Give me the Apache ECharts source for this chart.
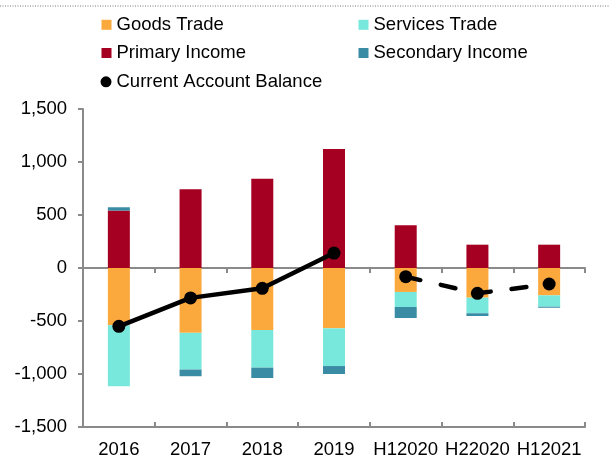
<!DOCTYPE html>
<html>
<head>
<meta charset="utf-8">
<script src="https://cdn.jsdelivr.net/npm/echarts@6/dist/echarts.min.js"></script>
<style>
    html, body { margin: 0; padding: 0; background: #fff; }
    #chart { width: 609px; height: 459px; }
</style>
</head>
<body>
<div id="chart"></div>
<script>
// 数据
var categories = ['2016', '2017', '2018', '2019', 'H12020', 'H22020', 'H12021'];
var goodsTrade = [-540, -612, -585, -569, -226, -280, -258];
var servicesTrade = [-575, -346, -355, -356, -142, -147, -107];
var primaryIncome = [542, 744, 841, 1123, 404, 220, 220];
var secondaryIncome = [31, -63, -98, -75, -104, -26, -10];
// 实线部分 (年度) 和 虚线部分 (半年)
var cabYears = [-550, -282, -192, 141, null, null, null];
var cabHalves = [null, null, null, null, -82, -239, -151];
var yTicks = [-1500, 1500, 500];

var font = 'Liberation Sans, Arial, sans-serif';
var fontSize = 18.5;
var axisGray = '#8a8a8a';

function legendItem(name, icon, left, top, size) {
    return {
        data: [{ name: name, icon: icon }],
        left: left,
        top: top,
        padding: 0,
        itemWidth: size,
        itemHeight: size,
        itemGap: 0,
        selectedMode: false,
        textStyle: { fontFamily: font, fontSize: fontSize, color: '#000' }
    };
}

var myChart = echarts.init(document.getElementById('chart'));

var option = {
    animation: false,
    backgroundColor: '#fff',
    grid: {
        left: 83,
        right: 24,
        top: 109,
        bottom: 31.5
    },
    legend: [
        legendItem('Goods Trade', 'rect', 101.5, 15.3, 10),
        legendItem('Services Trade', 'rect', 358.5, 15.3, 10),
        legendItem('Primary Income', 'rect', 101.5, 43.5, 10),
        legendItem('Secondary Income', 'rect', 358.5, 43.5, 10),
        legendItem('Current Account Balance', 'circle', 100.5, 72.3, 11)
    ],
    graphic: [{
        type: 'line',
        shape: { x1: 0, y1: 6, x2: 609, y2: 6 },
        style: { stroke: '#777', lineWidth: 1, lineDash: [1, 1.5] }
    }],
    xAxis: [
        {
            // 底部标签
            type: 'category',
            data: categories,
            position: 'bottom',
            axisLine: { show: false, onZero: false },
            axisTick: { show: false },
            axisLabel: {
                margin: 13,
                fontFamily: font,
                fontSize: fontSize,
                color: '#000',
                interval: 0
            }
        },
        {
            // 零线 + 向下刻度
            type: 'category',
            data: categories,
            position: 'bottom',
            axisLine: { show: true, onZero: true, lineStyle: { color: axisGray, width: 2 } },
            axisTick: { show: true, interval: 0, length: 5, lineStyle: { color: axisGray, width: 2 } },
            axisLabel: { show: false }
        },
        {
            // 向上刻度
            type: 'category',
            data: categories,
            position: 'bottom',
            axisLine: { show: true, onZero: true, lineStyle: { color: axisGray, width: 2 } },
            axisTick: { show: true, inside: true, interval: 0, length: 5, lineStyle: { color: axisGray, width: 2 } },
            axisLabel: { show: false }
        }
    ],
    yAxis: {
        type: 'value',
        min: yTicks[0],
        max: yTicks[1],
        interval: yTicks[2],
        splitLine: { show: false },
        axisLine: { show: true, lineStyle: { color: axisGray, width: 2 } },
        axisTick: { show: true, length: 5, lineStyle: { color: axisGray, width: 2 } },
        axisLabel: {
            margin: 16,
            fontFamily: font,
            fontSize: fontSize,
            color: '#000',
            formatter: function (v) {
                return v.toLocaleString('en-US');
            }
        }
    },
    series: [
        {
            name: 'Goods Trade',
            type: 'bar',
            stack: 'ca',
            barWidth: 22,
            itemStyle: { color: '#FBA93C' },
            data: goodsTrade
        },
        {
            name: 'Services Trade',
            type: 'bar',
            stack: 'ca',
            barWidth: 22,
            itemStyle: { color: '#77E8DB' },
            data: servicesTrade
        },
        {
            name: 'Primary Income',
            type: 'bar',
            stack: 'ca',
            barWidth: 22,
            itemStyle: { color: '#A50021' },
            data: primaryIncome
        },
        {
            name: 'Secondary Income',
            type: 'bar',
            stack: 'ca',
            barWidth: 22,
            itemStyle: { color: '#3A8CA5' },
            data: secondaryIncome
        },
        {
            name: 'Current Account Balance',
            type: 'line',
            z: 5,
            symbol: 'circle',
            symbolSize: 13,
            showAllSymbol: true,
            connectNulls: false,
            itemStyle: { color: '#000' },
            lineStyle: { color: '#000', width: 4.5 },
            data: cabYears
        },
        {
            name: 'Current Account Balance',
            type: 'line',
            z: 5,
            symbol: 'circle',
            symbolSize: 13,
            showAllSymbol: true,
            connectNulls: false,
            itemStyle: { color: '#000' },
            lineStyle: { color: '#000', width: 4.5, type: [15, 21], cap: 'round' },
            data: cabHalves
        }
    ]
};

myChart.setOption(option);
</script>
</body>
</html>
